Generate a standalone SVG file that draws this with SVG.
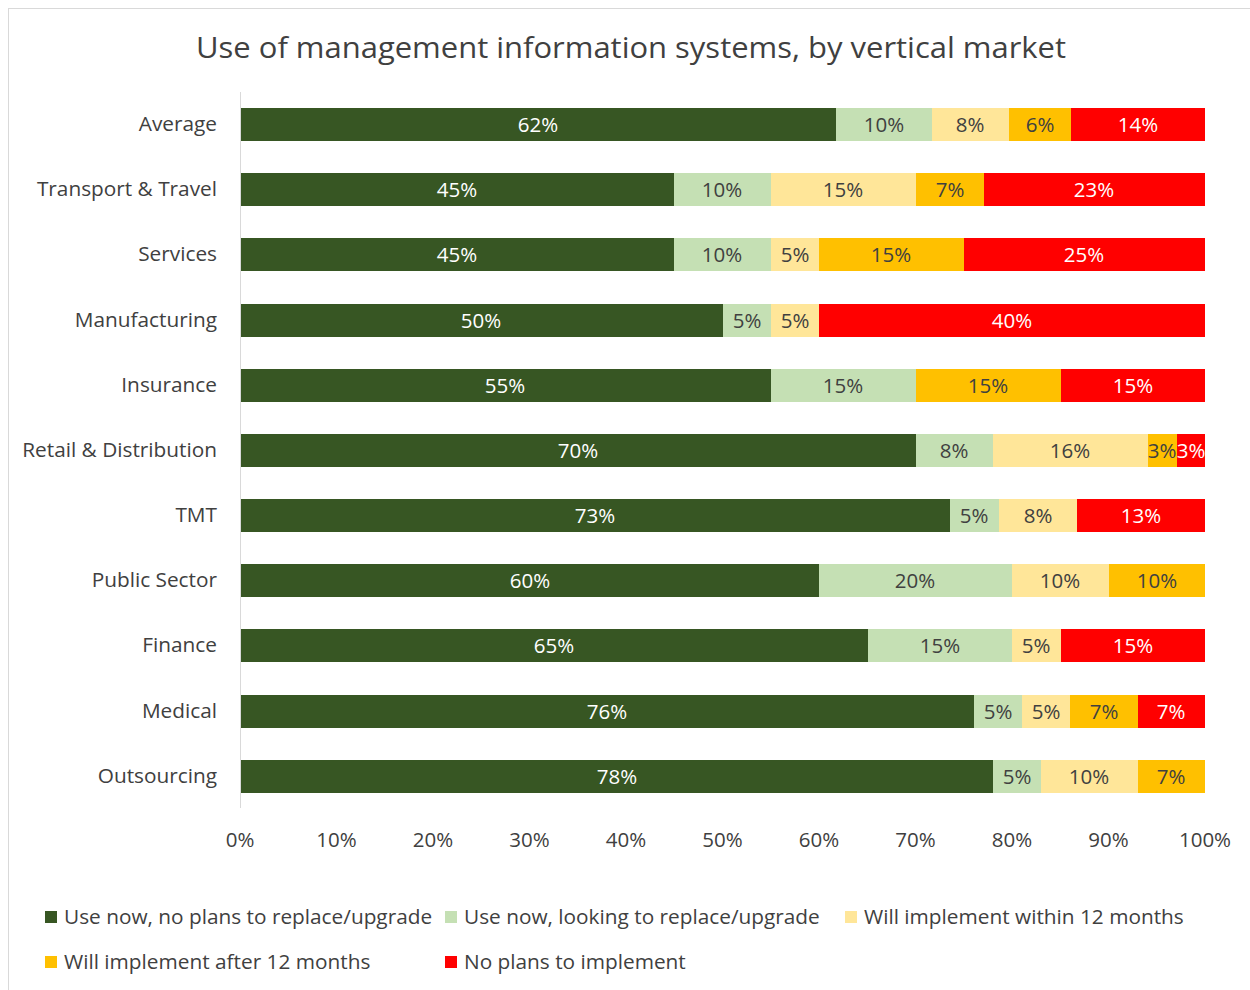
<svg xmlns="http://www.w3.org/2000/svg" width="1250" height="990" viewBox="0 0 1250 990">
<style>
text{font-family:"Open Sans","Liberation Sans",sans-serif;fill:#404040}
.t{font-size:30px}
.c{font-size:20.8px;text-anchor:end}
.v{font-size:20.5px;text-anchor:middle}
.w{fill:#ffffff}
.ax{font-size:20.5px;text-anchor:middle}
.lg{font-size:20.8px}
.g1{fill:#375623}.g2{fill:#C5E0B4}.g3{fill:#FFE699}.g4{fill:#FFC000}.g5{fill:#FF0000}
</style>
<rect x="0" y="0" width="1250" height="990" fill="#ffffff"/>
<rect x="8.5" y="8.5" width="1250" height="1000" fill="none" stroke="#d9d9d9"/>
<text class="t" x="631" y="58" text-anchor="middle" textLength="870" lengthAdjust="spacingAndGlyphs">Use of management information systems, by vertical market</text>
<line x1="240.5" y1="92" x2="240.5" y2="808" stroke="#d9d9d9"/>
<g id="connectors"></g>
<g id="bar-average">
<rect class="g1" x="241" y="108" width="595" height="33"/><rect class="g2" x="836" y="108" width="96" height="33"/><rect class="g3" x="932" y="108" width="77" height="33"/><rect class="g4" x="1009" y="108" width="62" height="33"/><rect class="g5" x="1071" y="108" width="134" height="33"/>
<text class="c" x="217" y="131">Average</text>
<text class="v w" x="538" y="132">62%</text><text class="v" x="884" y="132">10%</text><text class="v" x="970" y="132">8%</text><text class="v" x="1040" y="132">6%</text><text class="v w" x="1138" y="132">14%</text>
</g>
<g id="bar-transport">
<rect class="g1" x="241" y="173" width="433" height="33"/><rect class="g2" x="674" y="173" width="97" height="33"/><rect class="g3" x="771" y="173" width="145" height="33"/><rect class="g4" x="916" y="173" width="68" height="33"/><rect class="g5" x="984" y="173" width="221" height="33"/>
<text class="c" x="217" y="196">Transport &amp; Travel</text>
<text class="v w" x="457" y="197">45%</text><text class="v" x="722" y="197">10%</text><text class="v" x="843" y="197">15%</text><text class="v" x="950" y="197">7%</text><text class="v w" x="1094" y="197">23%</text>
</g>
<g id="bar-services">
<rect class="g1" x="241" y="238" width="433" height="33"/><rect class="g2" x="674" y="238" width="97" height="33"/><rect class="g3" x="771" y="238" width="48" height="33"/><rect class="g4" x="819" y="238" width="145" height="33"/><rect class="g5" x="964" y="238" width="241" height="33"/>
<text class="c" x="217" y="261">Services</text>
<text class="v w" x="457" y="262">45%</text><text class="v" x="722" y="262">10%</text><text class="v" x="795" y="262">5%</text><text class="v" x="891" y="262">15%</text><text class="v w" x="1084" y="262">25%</text>
</g>
<g id="bar-manufacturing">
<rect class="g1" x="241" y="304" width="482" height="33"/><rect class="g2" x="723" y="304" width="48" height="33"/><rect class="g3" x="771" y="304" width="48" height="33"/><rect class="g5" x="819" y="304" width="386" height="33"/>
<text class="c" x="217" y="327">Manufacturing</text>
<text class="v w" x="481" y="328">50%</text><text class="v" x="747" y="328">5%</text><text class="v" x="795" y="328">5%</text><text class="v w" x="1012" y="328">40%</text>
</g>
<g id="bar-insurance">
<rect class="g1" x="241" y="369" width="530" height="33"/><rect class="g2" x="771" y="369" width="145" height="33"/><rect class="g4" x="916" y="369" width="145" height="33"/><rect class="g5" x="1061" y="369" width="144" height="33"/>
<text class="c" x="217" y="392">Insurance</text>
<text class="v w" x="505" y="393">55%</text><text class="v" x="843" y="393">15%</text><text class="v" x="988" y="393">15%</text><text class="v w" x="1133" y="393">15%</text>
</g>
<g id="bar-retail">
<rect class="g1" x="241" y="434" width="675" height="33"/><rect class="g2" x="916" y="434" width="77" height="33"/><rect class="g3" x="993" y="434" width="155" height="33"/><rect class="g4" x="1148" y="434" width="29" height="33"/><rect class="g5" x="1177" y="434" width="28" height="33"/>
<text class="c" x="217" y="457">Retail &amp; Distribution</text>
<text class="v w" x="578" y="458">70%</text><text class="v" x="954" y="458">8%</text><text class="v" x="1070" y="458">16%</text><text class="v" x="1162" y="458">3%</text><text class="v w" x="1191" y="458">3%</text>
</g>
<g id="bar-tmt">
<rect class="g1" x="241" y="499" width="709" height="33"/><rect class="g2" x="950" y="499" width="49" height="33"/><rect class="g3" x="999" y="499" width="78" height="33"/><rect class="g5" x="1077" y="499" width="128" height="33"/>
<text class="c" x="217" y="522">TMT</text>
<text class="v w" x="595" y="523">73%</text><text class="v" x="974" y="523">5%</text><text class="v" x="1038" y="523">8%</text><text class="v w" x="1141" y="523">13%</text>
</g>
<g id="bar-public">
<rect class="g1" x="241" y="564" width="578" height="33"/><rect class="g2" x="819" y="564" width="193" height="33"/><rect class="g3" x="1012" y="564" width="97" height="33"/><rect class="g4" x="1109" y="564" width="96" height="33"/>
<text class="c" x="217" y="587">Public Sector</text>
<text class="v w" x="530" y="588">60%</text><text class="v" x="915" y="588">20%</text><text class="v" x="1060" y="588">10%</text><text class="v" x="1157" y="588">10%</text>
</g>
<g id="bar-finance">
<rect class="g1" x="241" y="629" width="627" height="33"/><rect class="g2" x="868" y="629" width="144" height="33"/><rect class="g3" x="1012" y="629" width="49" height="33"/><rect class="g5" x="1061" y="629" width="144" height="33"/>
<text class="c" x="217" y="652">Finance</text>
<text class="v w" x="554" y="653">65%</text><text class="v" x="940" y="653">15%</text><text class="v" x="1036" y="653">5%</text><text class="v w" x="1133" y="653">15%</text>
</g>
<g id="bar-medical">
<rect class="g1" x="241" y="695" width="733" height="33"/><rect class="g2" x="974" y="695" width="48" height="33"/><rect class="g3" x="1022" y="695" width="48" height="33"/><rect class="g4" x="1070" y="695" width="68" height="33"/><rect class="g5" x="1138" y="695" width="67" height="33"/>
<text class="c" x="217" y="718">Medical</text>
<text class="v w" x="607" y="719">76%</text><text class="v" x="998" y="719">5%</text><text class="v" x="1046" y="719">5%</text><text class="v" x="1104" y="719">7%</text><text class="v w" x="1171" y="719">7%</text>
</g>
<g id="bar-outsourcing">
<rect class="g1" x="241" y="760" width="752" height="33"/><rect class="g2" x="993" y="760" width="48" height="33"/><rect class="g3" x="1041" y="760" width="97" height="33"/><rect class="g4" x="1138" y="760" width="67" height="33"/>
<text class="c" x="217" y="783">Outsourcing</text>
<text class="v w" x="617" y="784">78%</text><text class="v" x="1017" y="784">5%</text><text class="v" x="1089" y="784">10%</text><text class="v" x="1171" y="784">7%</text>
</g>
<g id="x-axis">
<text class="ax" x="240" y="847">0%</text><text class="ax" x="336.5" y="847">10%</text><text class="ax" x="433" y="847">20%</text><text class="ax" x="529.5" y="847">30%</text><text class="ax" x="626" y="847">40%</text><text class="ax" x="722.5" y="847">50%</text><text class="ax" x="819" y="847">60%</text><text class="ax" x="915.5" y="847">70%</text><text class="ax" x="1012" y="847">80%</text><text class="ax" x="1108.5" y="847">90%</text><text class="ax" x="1205" y="847">100%</text>
</g>
<g id="legend">
<rect class="g1" x="45" y="911" width="12" height="12"/><text class="lg" x="64" y="924">Use now, no plans to replace/upgrade</text>
<rect class="g2" x="445" y="911" width="12" height="12"/><text class="lg" x="464" y="924">Use now, looking to replace/upgrade</text>
<rect class="g3" x="845" y="911" width="12" height="12"/><text class="lg" x="864" y="924">Will implement within 12 months</text>
<rect class="g4" x="45" y="956" width="12" height="12"/><text class="lg" x="64" y="969">Will implement after 12 months</text>
<rect class="g5" x="445" y="956" width="12" height="12"/><text class="lg" x="464" y="969">No plans to implement</text>
</g>
</svg>
